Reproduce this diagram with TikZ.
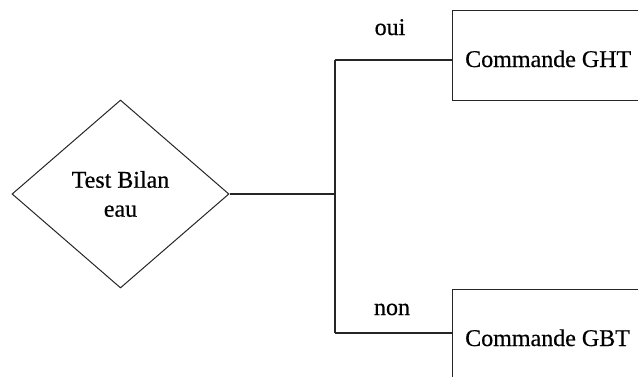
\documentclass[tikz,border=0pt]{standalone}
\usepackage{fontspec}
\setmainfont{Liberation Serif}
\newfontfamily\heavy{Liberation Serif}[FakeBold=0.5]
\usetikzlibrary{shapes.geometric}
\begin{document}
\begin{tikzpicture}[x=1pt,y=-1pt,
  line/.style={draw=black!85,line width=1.1pt},
  txt/.style={font=\heavy\fontsize{24}{29}\selectfont,inner sep=0pt},
  decision/.style={shape=diamond,draw=black!85,line width=1pt,inner sep=0pt,
    minimum width=217pt,minimum height=188pt,align=center,font=\heavy\fontsize{24}{29}\selectfont},
  boxstyle/.style={rectangle,draw=black!85,line width=1.1pt,inner sep=0pt,anchor=north west}]
\useasboundingbox (0,0) rectangle (638,376);
\clip (0,0) rectangle (638,376);
\fill[white] (0,0) rectangle (638,376);
\node[decision] (d) at (120.5,194) {Test Bilan\\eau};
\node[boxstyle,minimum width=260pt,minimum height=90pt] (ght) at (452,10) {};
\node[boxstyle,minimum width=260pt,minimum height=100pt] (gbt) at (452,289) {};
\node[txt,anchor=base west] (tght) at (465,67) {Commande GHT};
\node[txt,anchor=base west] (tgbt) at (465,346) {Commande GBT};
\node[txt,anchor=base] (oui) at (390,35) {oui};
\node[txt,anchor=base] (non) at (392,315) {non};
\coordinate (j) at (335,194);
\coordinate (jt) at (335,60);
\coordinate (jb) at (335,333);
\draw[line] (d.east) -- (j);
\draw[line] (jt) -- (jb);
\draw[line] (jt) -- (jt -| ght.west);
\draw[line] (jb) -- (jb -| gbt.west);
\end{tikzpicture}
\end{document}
